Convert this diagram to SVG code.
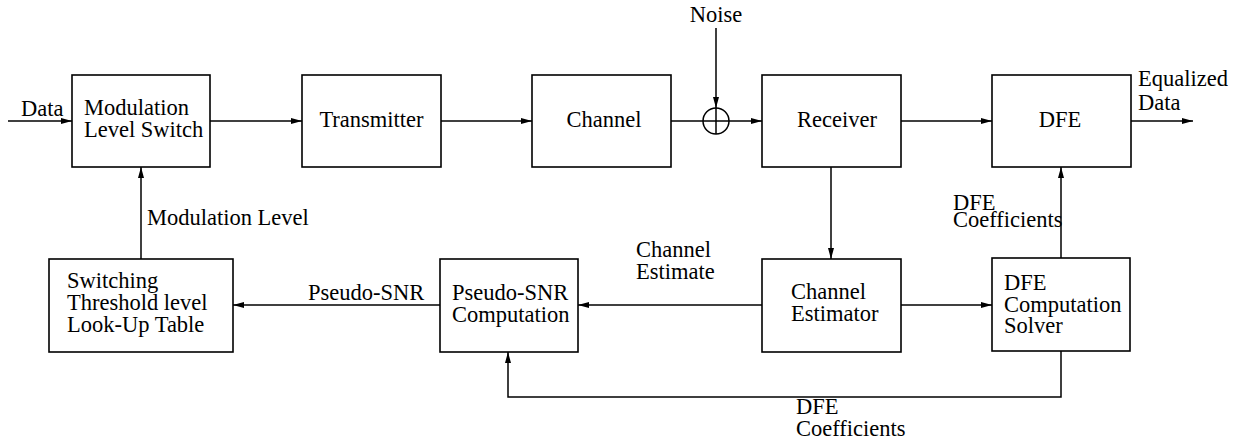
<svg xmlns="http://www.w3.org/2000/svg" width="1233" height="443" viewBox="0 0 1233 443">
<style>
rect.box{fill:#fff;stroke:#000;stroke-width:1.6}
.ln{fill:none;stroke:#000;stroke-width:1.5}
text{font-family:"Liberation Serif","Times New Roman",serif;font-size:22.5px;fill:#000}
.c{text-anchor:middle}
</style>
<defs>
<marker id="ah" markerUnits="userSpaceOnUse" markerWidth="12" markerHeight="8" refX="11" refY="4" orient="auto">
<path d="M0,1 L11,4 L0,7 Z" fill="#000"/>
</marker>
</defs>
<rect width="1233" height="443" fill="#fff"/>
<g id="connectors">
<path class="ln" d="M8,121 H72" marker-end="url(#ah)"/>
<path class="ln" d="M210,121 H302" marker-end="url(#ah)"/>
<path class="ln" d="M441,121 H532" marker-end="url(#ah)"/>
<path class="ln" d="M671,121 H703"/>
<path class="ln" d="M729,121 H762" marker-end="url(#ah)"/>
<path class="ln" d="M716,28 V108" marker-end="url(#ah)"/>
<path class="ln" d="M901,121 H992" marker-end="url(#ah)"/>
<path class="ln" d="M1131,121 H1193" marker-end="url(#ah)"/>
<path class="ln" d="M831,167 V259" marker-end="url(#ah)"/>
<path class="ln" d="M141,259 V167" marker-end="url(#ah)"/>
<path class="ln" d="M440,305 H233" marker-end="url(#ah)"/>
<path class="ln" d="M762,305 H578" marker-end="url(#ah)"/>
<path class="ln" d="M901,305 H992" marker-end="url(#ah)"/>
<path class="ln" d="M1061,258 V167" marker-end="url(#ah)"/>
<path class="ln" d="M1061,351 V397 H508 V352" marker-end="url(#ah)"/>
<text x="21" y="116">Data</text>
<text x="716" y="22" class="c">Noise</text>
<text x="1138" y="86">Equalized</text>
<text x="1138" y="110">Data</text>
<text x="147" y="225">Modulation Level</text>
<text x="308" y="300">Pseudo-SNR</text>
<text x="636" y="257">Channel</text>
<text x="636" y="279">Estimate</text>
<text x="953" y="210">DFE</text>
<text x="953" y="227">Coefficients</text>
<text x="796" y="414">DFE</text>
<text x="796" y="436">Coefficients</text>
</g>
<g id="sum">
<circle cx="716" cy="121" r="13" fill="none" stroke="#000" stroke-width="1.5"/>
<path class="ln" d="M703,121 H729 M716,108 V134"/>
</g>
<g id="modswitch">
<rect class="box" x="72" y="75" width="138" height="92"/>
<text x="84" y="115">Modulation</text>
<text x="84" y="137">Level Switch</text>
</g>
<g id="transmitter">
<rect class="box" x="302" y="75" width="139" height="92"/>
<text x="371.5" y="127" class="c">Transmitter</text>
</g>
<g id="channel">
<rect class="box" x="532" y="75" width="139" height="92"/>
<text x="604" y="127" class="c">Channel</text>
</g>
<g id="receiver">
<rect class="box" x="762" y="75" width="139" height="92"/>
<text x="837" y="127" class="c">Receiver</text>
</g>
<g id="dfe">
<rect class="box" x="992" y="75" width="139" height="92"/>
<text x="1060" y="127" class="c">DFE</text>
</g>
<g id="lut">
<rect class="box" x="49" y="259" width="184" height="93"/>
<text x="67" y="288">Switching</text>
<text x="67" y="310">Threshold level</text>
<text x="67" y="332">Look-Up Table</text>
</g>
<g id="psnr">
<rect class="box" x="440" y="259" width="138" height="93"/>
<text x="452" y="300">Pseudo-SNR</text>
<text x="452" y="322">Computation</text>
</g>
<g id="chest">
<rect class="box" x="762" y="259" width="139" height="93"/>
<text x="791" y="299">Channel</text>
<text x="791" y="321">Estimator</text>
</g>
<g id="dfesolver">
<rect class="box" x="992" y="258" width="138" height="93"/>
<text x="1004" y="290">DFE</text>
<text x="1004" y="312">Computation</text>
<text x="1004" y="333">Solver</text>
</g>
</svg>
